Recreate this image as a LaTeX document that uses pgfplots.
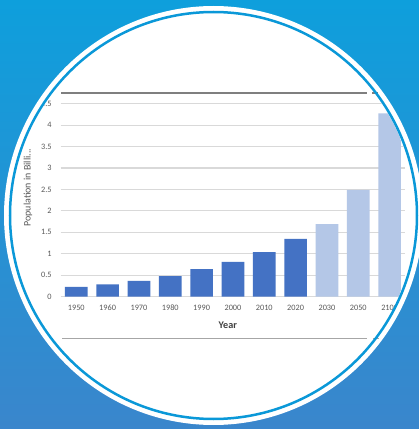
\documentclass[border=0pt]{standalone}
\usepackage{fontspec}
\setmainfont{Carlito}
\usepackage{pgfplots}
\pgfplotsset{compat=1.18}
\definecolor{bgtop}{HTML}{0E9FDC}
\definecolor{bgbot}{HTML}{3A86CC}
\definecolor{ringc}{HTML}{0A98D8}
\definecolor{darkbar}{HTML}{4472C4}
\definecolor{lightbar}{HTML}{B4C7E7}
\definecolor{gridc}{HTML}{D9D9D9}
\definecolor{txt}{HTML}{595959}
\definecolor{darktxt}{HTML}{404040}
\definecolor{lineA}{HTML}{7F7F7F}
\definecolor{lineB}{HTML}{A6A6A6}
\begin{document}
\begin{tikzpicture}[x=1bp,y=1bp]
\useasboundingbox (0,0) rectangle (419,429);
\shade[top color=bgtop,bottom color=bgbot] (0,0) rectangle (419,429);
\fill[white] (213.5,213.5) circle (209.5);
\draw[lineA, line width=1.3bp] (61,336) -- (367,336);
\draw[lineA, line width=1.3bp] (372,336) -- (378,336);
\draw[lineB, line width=1bp] (62,90) -- (367,90);
\draw[lineB, line width=1bp] (373,90) -- (379,90);
\begin{scope}
\clip (213.5,213.5) circle (202);
\begin{axis}[
  at={(60.6bp,132.3bp)}, anchor=south west,
  scale only axis, width=344.7bp, height=193.1bp,
  xmin=-0.5, xmax=10.5, ymin=0, ymax=4.5,
  ybar, bar width=22.7bp,
  xtick={0,1,2,3,4,5,6,7,8,9,10},
  xticklabels={1950,1960,1970,1980,1990,2000,2010,2020,2030,2050,2100},
  ytick={0,0.5,1,1.5,2,2.5,3,3.5,4,4.5},
  yticklabels={0,0.5,1,1.5,2,2.5,3,3.5,4,4.5},
  ymajorgrids, grid style={gridc, line width=1.1bp},
  axis line style={draw=none},
  major tick length=0pt,
  tick label style={font=\fontsize{8.3}{10}\selectfont, text=txt},
  /pgf/number format/assume math mode=true,
  xticklabel style={anchor=base, yshift=-14bp},
  yticklabel style={anchor=east, xshift=-5.5bp},
  xlabel={Year},
  xlabel style={font=\fontsize{10.2}{12}\selectfont\bfseries, text=darktxt, at={(axis description cs:0.485,0)}, anchor=base, yshift=-31.6bp},
  ylabel={Population in Billi...},
  ylabel style={font=\fontsize{10}{12}\selectfont, text=txt, at={(axis description cs:-0.0946,0.565)}, anchor=center, rotate=0},
]
\addplot[draw=none, fill=darkbar, bar shift=0pt] coordinates {
  (0,0.23) (1,0.29) (2,0.37) (3,0.48) (4,0.64) (5,0.81) (6,1.04) (7,1.345)
};
\addplot[draw=none, fill=lightbar, bar shift=0pt] coordinates {
  (8,1.69) (9,2.49) (10,4.27)
};
\end{axis}
\end{scope}
\draw[ringc, line width=2.5bp] (213.5,213.5) circle (203.5);
\end{tikzpicture}
\end{document}
